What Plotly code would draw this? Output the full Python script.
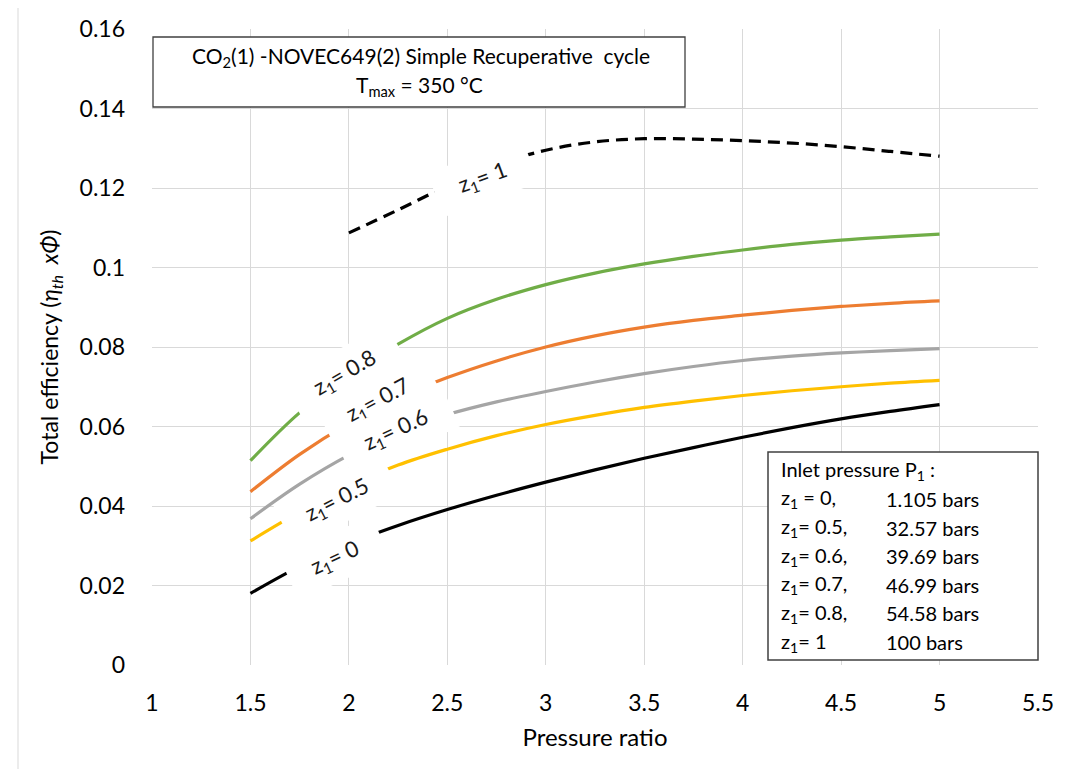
import plotly.graph_objects as go

# Data
pr = [1.5, 1.75, 2.0, 2.25, 2.5, 2.75, 3.0, 3.25, 3.5, 3.75, 4.0, 4.25, 4.5, 4.75, 5.0]
eff_z0 = [0.018, 0.0248, 0.0305, 0.0351, 0.0391, 0.0427, 0.0460, 0.0491, 0.0520, 0.0547, 0.0573, 0.0597, 0.0619, 0.0638, 0.0655]
eff_z05 = [0.0312, 0.0385, 0.0450, 0.0503, 0.0543, 0.0577, 0.0605, 0.0628, 0.0648, 0.0664, 0.0678, 0.0690, 0.0700, 0.0709, 0.0716]
eff_z06 = [0.0368, 0.0455, 0.0528, 0.0587, 0.0630, 0.0662, 0.0688, 0.0712, 0.0733, 0.0751, 0.0766, 0.0777, 0.0785, 0.0791, 0.0796]
eff_z07 = [0.0436, 0.0530, 0.0608, 0.0672, 0.0723, 0.0765, 0.0800, 0.0828, 0.0850, 0.0867, 0.0880, 0.0892, 0.0902, 0.0910, 0.0916]
eff_z08 = [0.0514, 0.0635, 0.0728, 0.0807, 0.0872, 0.0920, 0.0957, 0.0986, 0.1009, 0.1028, 0.1044, 0.1058, 0.1069, 0.1077, 0.1084]
pr_z1 = [2.0, 2.25, 2.5, 2.75, 3.0, 3.25, 3.5, 3.75, 4.0, 4.25, 4.5, 4.75, 5.0]
eff_z1 = [0.1087, 0.1145, 0.1205, 0.1258, 0.1295, 0.1316, 0.1324, 0.1323, 0.1319, 0.1313, 0.1304, 0.1292, 0.1280]

series = [
    ("z1=0", pr, eff_z0, "#000000", "solid"),
    ("z1=0.5", pr, eff_z05, "#FFC000", "solid"),
    ("z1=0.6", pr, eff_z06, "#A5A5A5", "solid"),
    ("z1=0.7", pr, eff_z07, "#ED7D31", "solid"),
    ("z1=0.8", pr, eff_z08, "#70AD47", "solid"),
    ("z1=1", pr_z1, eff_z1, "#000000", "12px,7px"),
]

# curve labels: text, x, y, angle
curve_labels = [
    ("z<sub>1</sub>= 1", 2.68, 0.1225, -20),
    ("z<sub>1</sub>= 0.8", 1.98, 0.0735, -30),
    ("z<sub>1</sub>= 0.7", 2.15, 0.0667, -28),
    ("z<sub>1</sub>= 0.6", 2.24, 0.0592, -25),
    ("z<sub>1</sub>= 0.5", 1.94, 0.0416, -27),
    ("z<sub>1</sub>= 0", 1.93, 0.0270, -25),
]

legend_rows = [
    ("z<sub>1</sub> = 0,", "1.105 bars"),
    ("z<sub>1</sub>= 0.5,", "32.57 bars"),
    ("z<sub>1</sub>= 0.6,", "39.69 bars"),
    ("z<sub>1</sub>= 0.7,", "46.99 bars"),
    ("z<sub>1</sub>= 0.8,", "54.58 bars"),
    ("z<sub>1</sub>= 1", "100 bars"),
]

FONT = "Lato, 'Open Sans', sans-serif"
OFF = 8  # default body margin of the html page
W, H = 1078 - OFF, 769 - OFF
ML, MR, MT, MB = 152 - OFF, 40, 29 - OFF, 104
PW, PH = W - ML - MR, H - MT - MB

def px(x):
    return (x - OFF - ML) / PW

def py(y):
    return 1 - (y - OFF - MT) / PH

fig = go.Figure()
for name, xs, ys, col, dash in series:
    fig.add_trace(go.Scatter(x=xs, y=ys, mode="lines", name=name,
                             line=dict(color=col, width=3.2, dash=dash, shape="spline"),
                             showlegend=False, hoverinfo="skip"))

PAD = "\u00a0\u00a0\u00a0"
for txt, x, y, ang in curve_labels:
    fig.add_annotation(x=x, y=y, text=PAD + txt + PAD, showarrow=False, textangle=ang,
                       bgcolor="white", borderpad=8,
                       font=dict(family=FONT, size=22, color="#1a1a1a"))

# Chart-area border
fig.add_shape(type="rect", xref="paper", yref="paper",
              x0=px(18), x1=px(1075), y0=py(790), y1=py(5),
              line=dict(color="#d9d9d9", width=1), layer="below")

# Title box
fig.add_shape(type="rect", xref="paper", yref="paper",
              x0=px(153), x1=px(685), y0=py(107), y1=py(37),
              line=dict(color="#404040", width=1.3), fillcolor="white", layer="above")
fig.add_annotation(xref="paper", yref="paper", x=px(421), y=py(57), xanchor="center",
                   yanchor="middle", showarrow=False,
                   text="CO<sub>2</sub>(1) -NOVEC649(2) Simple Recuperative  cycle",
                   font=dict(family=FONT, size=21, color="#000"))
fig.add_annotation(xref="paper", yref="paper", x=px(419), y=py(86), xanchor="center",
                   yanchor="middle", showarrow=False,
                   text="T<sub>max</sub> = 350 \u00b0C",
                   font=dict(family=FONT, size=21, color="#000"))

# Legend box
fig.add_shape(type="rect", xref="paper", yref="paper",
              x0=px(768), x1=px(1038), y0=py(660), y1=py(452),
              line=dict(color="#404040", width=1.5), fillcolor="white", layer="above")
fig.add_annotation(xref="paper", yref="paper", x=px(779), y=py(470), xanchor="left",
                   yanchor="middle", showarrow=False, text="Inlet pressure P<sub>1</sub> :",
                   font=dict(family=FONT, size=20, color="#000"))
for i, (a, b) in enumerate(legend_rows):
    yy = py(499 + i * 28.6)
    fig.add_annotation(xref="paper", yref="paper", x=px(779), y=yy, xanchor="left",
                       yanchor="middle", showarrow=False, text=a,
                       font=dict(family=FONT, size=20, color="#000"))
    fig.add_annotation(xref="paper", yref="paper", x=px(884), y=yy, xanchor="left",
                       yanchor="middle", showarrow=False, text=b,
                       font=dict(family=FONT, size=20, color="#000"))

fig.update_layout(
    width=W, height=H,
    margin=dict(l=ML, r=MR, t=MT, b=MB),
    plot_bgcolor="white", paper_bgcolor="white",
    font=dict(family=FONT, size=22, color="#000"),
    xaxis=dict(range=[1, 5.5], dtick=0.5, tick0=1, showgrid=True, gridcolor="#d9d9d9",
               zeroline=False, showline=False, ticks="", tickfont=dict(size=23),
               ticklabelstandoff=22, automargin=False,
               title=dict(text="Pressure ratio", font=dict(size=24), standoff=14)),
    yaxis=dict(range=[0, 0.16], showgrid=True, gridcolor="#d9d9d9",
               zeroline=False, showline=False, ticks="", tickfont=dict(size=23),
               ticklabelstandoff=26, automargin=False,
               tickvals=[0, 0.02, 0.04, 0.06, 0.08, 0.1, 0.12, 0.14, 0.16],
               ticktext=["0", "0.02", "0.04", "0.06", "0.08", "0.1", "0.12", "0.14", "0.16"],
               title=dict(text="Total efficiency (<i>\u03b7<sub>th</sub>  x\u03a6</i>)",
                          font=dict(size=23), standoff=14)),
)

fig.write_html("out.html")
